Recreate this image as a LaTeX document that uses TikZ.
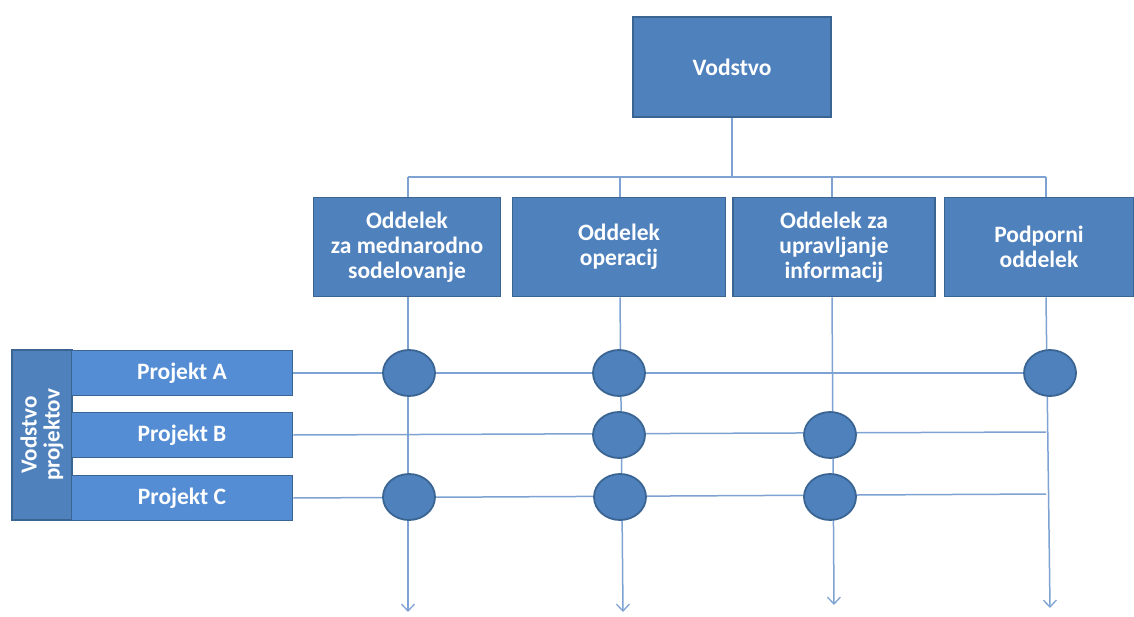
\documentclass[tikz,border=0pt]{standalone}
\usepackage{fontspec}
\setmainfont{Carlito}
\usetikzlibrary{arrows.meta,shapes.geometric}
\definecolor{boxblue}{HTML}{4F81BD}
\definecolor{boxedge}{HTML}{3A6593}
\definecolor{projblue}{HTML}{548DD4}
\definecolor{linkblue}{HTML}{7EA3D3}
\begin{document}
\begin{tikzpicture}[x=1pt,y=-1pt,
  unit/.style={draw=boxedge, line width=1.8pt, fill=boxblue, text=white,
    font=\bfseries\fontsize{23.5}{25}\selectfont, align=center, inner sep=0pt},
  dept/.style={unit, minimum height=99pt},
  proj/.style={unit, fill=projblue, minimum width=221pt, minimum height=45pt},
  hub/.style={ellipse, draw=boxedge, line width=1.8pt, fill=boxblue,
    minimum width=52pt, minimum height=46pt, inner sep=0pt},
  link/.style={draw=linkblue, line width=1.5pt},
  flow/.style={link, -{Straight Barb[length=7pt,width=13pt,line width=1.3pt]}}
]
\useasboundingbox (0,0) rectangle (1134,617);

% management
\node[dept, minimum width=198pt, minimum height=100pt] (vod) at (732,67) {Vodstvo};

% departments
\node[dept, minimum width=187pt] (d1) at (407,247) {Oddelek\\za mednarodno\\sodelovanje};
\node[dept, minimum width=213pt] (d2) at (619,247) {Oddelek\\operacij};
\node[dept, minimum width=202pt] (d3) at (834,247) {Oddelek za\\upravljanje\\informacij};
\node[dept, minimum width=189pt] (d4) at (1039,247) {Podporni\\oddelek};

% project leadership column and projects
\node[unit, minimum width=60pt, minimum height=170pt] (vp) at (42,435) {};
\node[rotate=90, text=white, font=\bfseries\fontsize{23}{23}\selectfont, align=center]
  (vpt) at (vp.center) {Vodstvo\\projektov};
\node[proj] (pA) at (182,373) {Projekt A};
\node[proj] (pB) at (182,435) {Projekt B};
\node[proj] (pC) at (182,498) {Projekt C};

% bus from management to departments
\coordinate (b1) at (408,177);
\coordinate (b2) at (620,177);
\coordinate (b3) at (832,177);
\coordinate (b4) at (1046,177);
\draw[link] (vod.south) -- (vod.south |- b1);
\draw[link] (b1) -- (b4);
\draw[link] (b1) -- (b1 |- d1.north);
\draw[link] (b2) -- (b2 |- d2.north);
\draw[link] (b3) -- (b3 |- d3.north);
\draw[link] (b4) -- (b4 |- d4.north);

% department flows downwards
\coordinate (e1) at (408,612);
\coordinate (e2) at (623,612);
\coordinate (e3) at (834,605);
\coordinate (e4) at (1050,608);
\draw[flow] (b1 |- d1.south) -- (e1);
\draw[flow] (b2 |- d2.south) -- (e2);
\draw[flow] (b3 |- d3.south) -- (e3);
\draw[flow] (b4 |- d4.south) -- (e4);

% project rows
\coordinate (rA) at (1046,373);
\coordinate (rB) at (1046,432);
\coordinate (rC) at (1046,494);
\draw[link] (pA.east) -- (rA);
\draw[link] (pB.east) -- (rB);
\draw[link] (pC.east) -- (rC);

% participation points
\node[hub] (a1) at (409,373) {};
\node[hub] (a2) at (619,373) {};
\node[hub] (a4) at (1050,373) {};
\node[hub] (bb2) at (619,435) {};
\node[hub] (bb3) at (830,435) {};
\node[hub] (c1) at (409,497) {};
\node[hub] (c2) at (620,497) {};
\node[hub] (c3) at (830,497) {};
\end{tikzpicture}
\end{document}
